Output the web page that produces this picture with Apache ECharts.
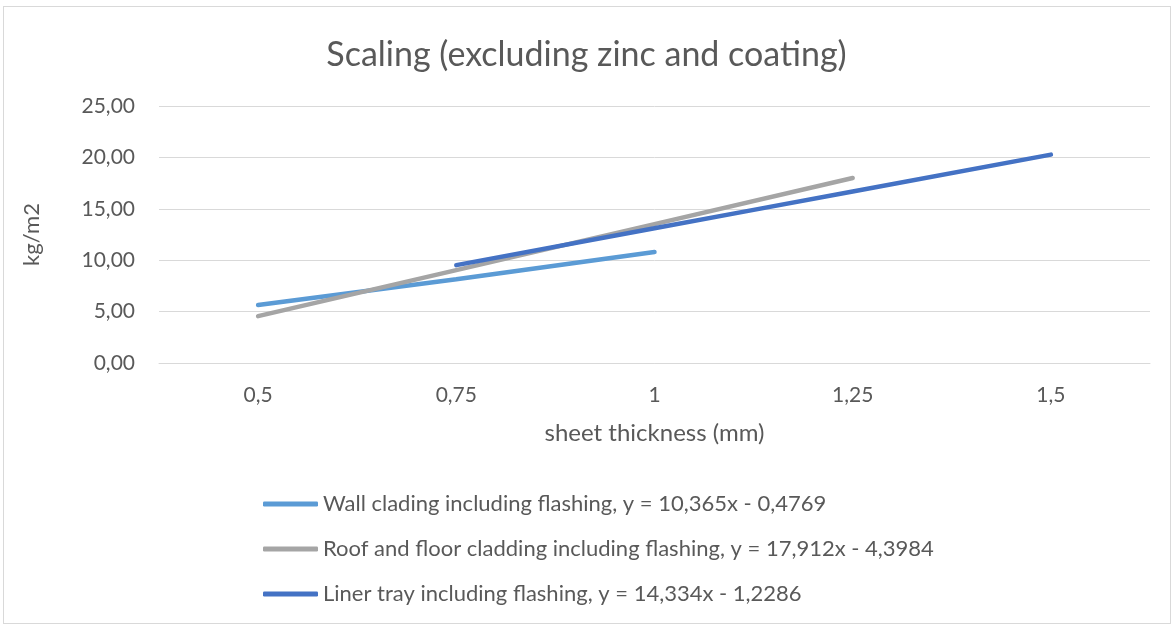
<!DOCTYPE html>
<html>
<head>
<meta charset="utf-8">
<script src="https://cdn.jsdelivr.net/npm/echarts@6/dist/echarts.min.js"></script>
<style>
html,body{margin:0;padding:0;background:#fff;}
#frame{position:absolute;left:3px;top:6px;width:1168px;height:618px;border:1px solid #d9d9d9;box-sizing:border-box;}
#chart{position:absolute;left:0;top:0;width:1173px;height:626px;}
</style>
</head>
<body>
<div id="frame"></div>
<div id="chart"></div>
<script>
const categories = ['0,5', '0,75', '1', '1,25', '1,5'];
const wallCladding = [5.65, 8.15, 10.8, null, null];
const roofFloorCladding = [4.56, 9.04, 13.51, 17.99, null];
const linerTray = [null, 9.52, 13.10, 16.69, 20.27];
const seriesNames = [
  'Wall clading including flashing, y = 10,365x - 0,4769',
  'Roof and floor cladding including flashing, y = 17,912x - 4,3984',
  'Liner tray including flashing, y = 14,334x - 1,2286'
];
const yTicks = {min: 0, max: 25, interval: 5};
const FONT = 'Lato';
const colors = ['#5B9BD5', '#A5A5A5', '#4472C4'];

const chart = echarts.init(document.getElementById('chart'), null, {renderer: 'canvas'});
function mk(name, data, color) {
  return {
    name: name, type: 'line', data: data, smooth: true, symbol: 'none',
    lineStyle: {width: 4.5, color: color, cap: 'round', join: 'round'},
    itemStyle: {color: color}, connectNulls: false
  };
}
chart.setOption({
  animation: false,
  textStyle: {fontFamily: FONT},
  title: {
    text: 'Scaling (excluding zinc and coating)', left: 'center', top: 33,
    textStyle: {fontFamily: FONT, fontSize: 34, fontWeight: 'normal', color: '#595959'}
  },
  grid: {left: 159, right: 23, top: 106, bottom: 263, containLabel: false},
  xAxis: {
    type: 'category', data: categories, boundaryGap: true,
    name: 'sheet thickness (mm)', nameLocation: 'middle', nameGap: 58,
    nameTextStyle: {fontFamily: FONT, fontSize: 24, color: '#595959'},
    axisLine: {show: true, lineStyle: {color: '#d9d9d9', width: 1}},
    axisTick: {show: false},
    axisLabel: {fontFamily: FONT, fontSize: 21, color: '#595959', margin: 22}
  },
  yAxis: {
    type: 'value', min: yTicks.min, max: yTicks.max, interval: yTicks.interval,
    name: 'kg/m2', nameLocation: 'middle', nameGap: 116, nameRotate: 90,
    nameTextStyle: {fontFamily: FONT, fontSize: 22, color: '#595959'},
    axisLine: {show: false}, axisTick: {show: false},
    splitLine: {lineStyle: {color: '#d9d9d9', width: 1}},
    axisLabel: {fontFamily: FONT, fontSize: 21, color: '#595959', margin: 24,
      formatter: v => v.toFixed(2).replace('.', ',')}
  },
  legend: {
    orient: 'vertical', left: 263, top: 493, itemGap: 23, padding: 0,
    itemWidth: 55, itemHeight: 5, icon: 'roundRect',
    textStyle: {fontFamily: FONT, fontSize: 22, color: '#595959'},
    data: seriesNames
  },
  series: [
    mk(seriesNames[0], wallCladding, colors[0]),
    mk(seriesNames[1], roofFloorCladding, colors[1]),
    mk(seriesNames[2], linerTray, colors[2])
  ]
});
</script>
</body>
</html>
